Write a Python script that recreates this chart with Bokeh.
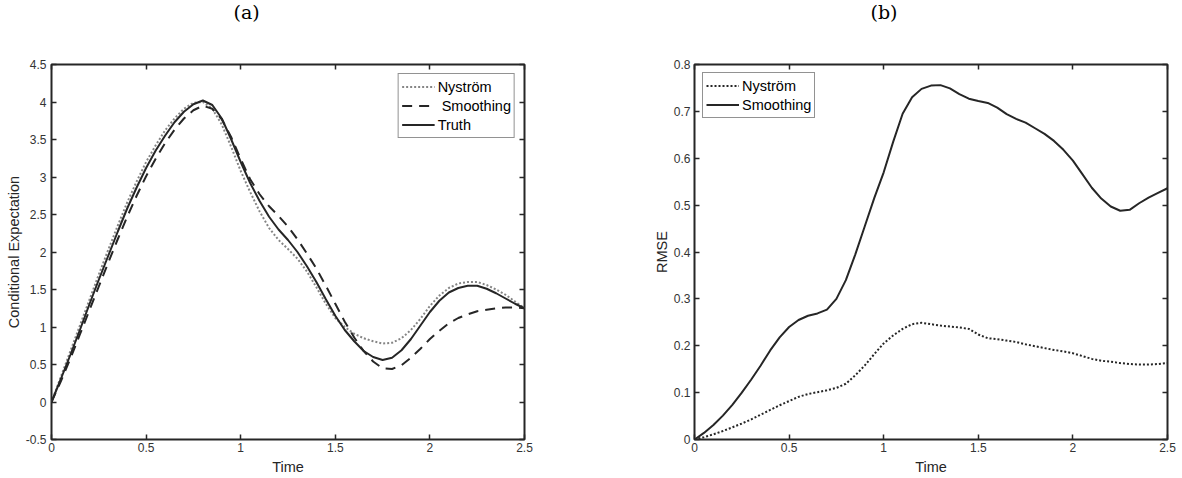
from bokeh.plotting import figure
from bokeh.models import (Range1d, LinearAxis, Legend, LegendItem, FixedTicker,
                          NumeralTickFormatter, CustomJSTickFormatter, Title)
from bokeh.layouts import row
from bokeh.embed import file_html
from bokeh.resources import INLINE

# ---------------- data ----------------
time = [0.00, 0.05, 0.10, 0.15, 0.20, 0.25, 0.30, 0.35, 0.40, 0.45,
        0.50, 0.55, 0.60, 0.65, 0.70, 0.75, 0.80, 0.85, 0.90, 0.95,
        1.00, 1.05, 1.10, 1.15, 1.20, 1.25, 1.30, 1.35, 1.40, 1.45,
        1.50, 1.55, 1.60, 1.65, 1.70, 1.75, 1.80, 1.85, 1.90, 1.95,
        2.00, 2.05, 2.10, 2.15, 2.20, 2.25, 2.30, 2.35, 2.40, 2.45, 2.50]

# (a) conditional expectation
truth = [0.00, 0.31, 0.63, 0.96, 1.30, 1.63, 1.95, 2.27, 2.58, 2.86,
         3.12, 3.35, 3.55, 3.73, 3.87, 3.97, 4.02, 3.96, 3.78, 3.50,
         3.20, 2.92, 2.68, 2.47, 2.30, 2.16, 2.00, 1.81, 1.60, 1.37,
         1.15, 0.96, 0.81, 0.68, 0.60, 0.56, 0.59, 0.69, 0.84, 1.02,
         1.20, 1.35, 1.46, 1.52, 1.55, 1.55, 1.51, 1.45, 1.38, 1.31, 1.25]
nystrom_a = [0.00, 0.34, 0.68, 1.02, 1.36, 1.70, 2.03, 2.35, 2.66, 2.94,
             3.20, 3.42, 3.62, 3.78, 3.91, 3.99, 4.00, 3.91, 3.70, 3.40,
             3.08, 2.80, 2.54, 2.32, 2.16, 2.04, 1.91, 1.74, 1.53, 1.31,
             1.12, 1.00, 0.91, 0.85, 0.81, 0.78, 0.79, 0.85, 0.96, 1.11,
             1.28, 1.42, 1.52, 1.58, 1.60, 1.60, 1.56, 1.50, 1.43, 1.34, 1.25]
smoothing_a = [0.00, 0.28, 0.58, 0.90, 1.22, 1.54, 1.86, 2.17, 2.47, 2.75,
               3.01, 3.24, 3.45, 3.63, 3.78, 3.89, 3.95, 3.91, 3.77, 3.53,
               3.24, 2.97, 2.77, 2.61, 2.48, 2.34, 2.17, 1.98, 1.78, 1.55,
               1.31, 1.07, 0.86, 0.68, 0.54, 0.45, 0.44, 0.49, 0.59, 0.71,
               0.84, 0.95, 1.05, 1.12, 1.17, 1.21, 1.23, 1.25, 1.26, 1.26, 1.25]

# (b) RMSE
nystrom_b = [0.000, 0.005, 0.011, 0.018, 0.026, 0.034, 0.043, 0.053, 0.063, 0.073,
             0.082, 0.091, 0.097, 0.101, 0.105, 0.110, 0.119, 0.137, 0.158, 0.182,
             0.205, 0.222, 0.236, 0.246, 0.249, 0.246, 0.243, 0.241, 0.239, 0.236,
             0.224, 0.216, 0.214, 0.211, 0.208, 0.203, 0.199, 0.195, 0.191, 0.188,
             0.184, 0.178, 0.172, 0.168, 0.166, 0.163, 0.161, 0.160, 0.160, 0.161, 0.163]
smoothing_b = [0.000, 0.014, 0.031, 0.051, 0.074, 0.100, 0.128, 0.158, 0.190, 0.218,
               0.240, 0.255, 0.264, 0.269, 0.277, 0.300, 0.340, 0.395, 0.455, 0.515,
               0.570, 0.635, 0.695, 0.730, 0.748, 0.755, 0.756, 0.749, 0.737, 0.727,
               0.722, 0.718, 0.708, 0.694, 0.684, 0.676, 0.664, 0.652, 0.637, 0.618,
               0.595, 0.566, 0.537, 0.514, 0.497, 0.488, 0.490, 0.504, 0.516, 0.526, 0.536]

x_ticks = [0, 0.5, 1, 1.5, 2, 2.5]
y_ticks_a = [-0.5, 0, 0.5, 1, 1.5, 2, 2.5, 3, 3.5, 4, 4.5]
y_ticks_b = [0, 0.1, 0.2, 0.3, 0.4, 0.5, 0.6, 0.7, 0.8]

# ---------------- styling ----------------
FONT = "Liberation Sans"
INK = "#262626"
TICK_TXT = "#333333"
HEIGHT = 478


def make_fig(width, left, right, y_rng, yticks, ylabel, title_text, y_std, title_off):
    p = figure(width=width, height=HEIGHT, x_range=Range1d(0, 2.5), y_range=Range1d(*y_rng),
               output_backend="svg", toolbar_location=None,
               min_border_left=left, min_border_right=right,
               min_border_top=0, min_border_bottom=39)
    p.background_fill_color = "white"
    p.border_fill_color = "white"
    p.outline_line_color = INK
    p.outline_line_width = 2
    p.xgrid.visible = False
    p.ygrid.visible = False

    for ax, ticks in ((p.xaxis[0], x_ticks), (p.yaxis[0], yticks)):
        ax.ticker = FixedTicker(ticks=ticks)
        ax.formatter = NumeralTickFormatter(format="0.[0]")
        ax.axis_line_color = None
        ax.major_tick_in = 5
        ax.major_tick_out = 0
        ax.minor_tick_in = 0
        ax.minor_tick_out = 0
        ax.major_tick_line_color = INK
        ax.major_tick_line_width = 1.5
        ax.major_label_text_font = FONT
        ax.major_label_text_font_size = "12px"
        ax.major_label_text_color = TICK_TXT
        ax.axis_label_text_font = FONT
        ax.axis_label_text_font_size = "14.5px"
        ax.axis_label_text_font_style = "normal"
        ax.axis_label_text_color = INK
    p.xaxis[0].axis_label = "Time"
    p.xaxis[0].major_label_standoff = 3
    p.xaxis[0].axis_label_standoff = 4
    p.yaxis[0].axis_label = ylabel
    p.yaxis[0].major_label_standoff = y_std
    p.yaxis[0].axis_label_standoff = 1

    # mirrored ticks on top and right (box on)
    top = LinearAxis(ticker=FixedTicker(ticks=x_ticks))
    right_ax = LinearAxis(ticker=FixedTicker(ticks=yticks))
    for ax in (top, right_ax):
        ax.formatter = CustomJSTickFormatter(code="return ''")
        ax.axis_line_color = None
        ax.major_tick_in = 5
        ax.major_tick_out = 0
        ax.minor_tick_in = 0
        ax.minor_tick_out = 0
        ax.major_tick_line_color = INK
        ax.major_tick_line_width = 1.5
        ax.major_label_text_font_size = "0px"
        ax.major_label_standoff = 0
    p.add_layout(top, "above")
    p.add_layout(right_ax, "right")

    # spacer panel, then the sub-figure caption at the very top
    p.add_layout(Title(text=" ", text_font_size="10px", standoff=27), "above")
    p.add_layout(Title(text=title_text, align="left", offset=title_off, vertical_align="top",
                       standoff=0, text_font="DejaVu Serif", text_font_size="19px",
                       text_font_style="normal", text_color="black"), "above")
    return p


def style_legend(leg, loc, margin):
    leg.location = loc
    leg.margin = margin
    leg.padding = 3
    leg.spacing = 0
    leg.glyph_width = 33
    leg.glyph_height = 19
    leg.label_height = 19
    leg.label_standoff = 3
    leg.label_text_font = FONT
    leg.label_text_font_size = "14.5px"
    leg.label_text_color = "black"
    leg.border_line_color = INK
    leg.border_line_width = 1.5
    leg.background_fill_color = "white"
    leg.background_fill_alpha = 1.0


# ---------------- (a) ----------------
p1 = make_fig(648, 51, 124, (-0.5, 4.5), y_ticks_a, "Conditional Expectation", "(a)", 5, 182)
r_n1 = p1.line(time, nystrom_a, line_color="#858585", line_width=2, line_dash="2 2")
r_s1 = p1.line(time, smoothing_a, line_color=INK, line_width=2, line_dash="10 7")
r_t1 = p1.line(time, truth, line_color=INK, line_width=2)
leg1 = Legend(items=[LegendItem(label="Nyström", renderers=[r_n1]),
                     LegendItem(label=" Smoothing", renderers=[r_s1]),
                     LegendItem(label="Truth", renderers=[r_t1])])
style_legend(leg1, "top_right", 9)
p1.add_layout(leg1)

# ---------------- (b) ----------------
p2 = make_fig(534, 46, 15, (0, 0.8), y_ticks_b, "RMSE", "(b)", 4, 176)
r_n2 = p2.line(time, nystrom_b, line_color=INK, line_width=2, line_dash="2 2")
r_s2 = p2.line(time, smoothing_b, line_color=INK, line_width=2)
leg2 = Legend(items=[LegendItem(label="Nyström", renderers=[r_n2]),
                     LegendItem(label="Smoothing", renderers=[r_s2])])
style_legend(leg2, "top_left", 8)
p2.add_layout(leg2)

layout = row(p1, p2)
open("out.html", "w").write(file_html(layout, INLINE))
